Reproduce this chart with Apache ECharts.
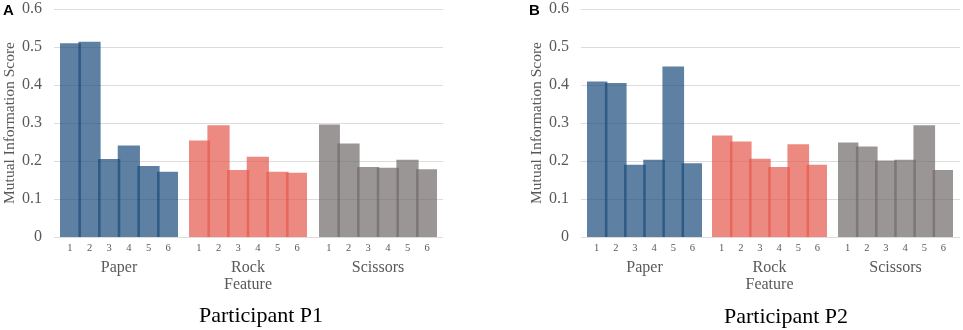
<!DOCTYPE html>
<html>
<head>
<meta charset="utf-8">
<script src="https://cdn.jsdelivr.net/npm/echarts@6/dist/echarts.min.js"></script>
<style>
  html, body { margin: 0; padding: 0; background: #fff; }
  #chart { width: 963px; height: 330px; }
</style>
</head>
<body>
<div id="chart"></div>
<script>
// feature index labels under every bar group
var features = ["1", "2", "3", "4", "5", "6"];
var groups = ["Paper", "Rock", "Scissors"];

// Participant P1
var p1Paper = [0.510, 0.514, 0.205, 0.241, 0.187, 0.172];
var p1Rock = [0.254, 0.294, 0.176, 0.211, 0.172, 0.169];
var p1Scissors = [0.296, 0.246, 0.184, 0.182, 0.203, 0.178];

// Participant P2
var p2Paper = [0.409, 0.405, 0.190, 0.203, 0.449, 0.194];
var p2Rock = [0.267, 0.251, 0.206, 0.184, 0.244, 0.190];
var p2Scissors = [0.249, 0.238, 0.201, 0.203, 0.294, 0.176];

var yMin = 0, yMax = 0.6, yStep = 0.1;

var serif = "Liberation Serif";
var gray = "#595959";
var colors = ["#1a4a7a", "#e4584c", "#706a6a"];

var chart = echarts.init(document.getElementById("chart"));

var grids = [], xAxes = [], yAxes = [], series = [];

// one panel = a background grid (y axis + gridlines) and three group grids
function addPanel(bg, groupLefts, groupWidth, data) {
    var top = 9, height = 228;
    var bgIndex = grids.length;
    grids.push({ left: bg[0], width: bg[1], top: top, height: height });
    xAxes.push({ gridIndex: bgIndex, type: "value", show: false });
    yAxes.push({
        gridIndex: bgIndex, type: "value", min: yMin, max: yMax, interval: yStep,
        name: "Mutual Information Score", nameLocation: "middle", nameGap: 36,
        nameTextStyle: { fontFamily: serif, fontSize: 15.5, color: gray },
        axisLine: { show: false }, axisTick: { show: false },
        axisLabel: { fontFamily: serif, fontSize: 16, color: gray, margin: 12 },
        splitLine: { lineStyle: { color: "#dcdcdc", width: 1 } }
    });
    groupLefts.forEach(function (left, i) {
        var gi = grids.length;
        grids.push({ left: left, width: groupWidth, top: top, height: height });
        xAxes.push({
            gridIndex: gi, type: "category", data: features,
            name: i === 1 ? groups[i] + "\nFeature" : groups[i],
            nameLocation: "middle", nameGap: 19,
            nameTextStyle: { fontFamily: serif, fontSize: 16, color: gray, lineHeight: 17.5, verticalAlign: "top" },
            axisLine: { show: false }, axisTick: { show: false },
            axisLabel: { fontFamily: serif, fontSize: 10.5, color: gray, margin: 6 }
        });
        yAxes.push({ gridIndex: gi, type: "value", min: yMin, max: yMax, interval: yStep, show: false });
        series.push({
            type: "bar", xAxisIndex: gi, yAxisIndex: gi, data: data[i],
            barWidth: "113%",
            itemStyle: { color: colors[i], opacity: 0.7 },
            silent: true
        });
    });
}

addPanel([54, 389], [60, 189, 319], 118, [p1Paper, p1Rock, p1Scissors]);
addPanel([581, 379], [587, 712, 838], 115, [p2Paper, p2Rock, p2Scissors]);

chart.setOption({
    animation: false,
    grid: grids,
    xAxis: xAxes,
    yAxis: yAxes,
    series: series,
    graphic: [
        { type: "text", left: 3, top: 3, style: { text: "A", font: "bold 15px 'Liberation Sans'", fill: "#000" } },
        { type: "text", left: 529, top: 3, style: { text: "B", font: "bold 15px 'Liberation Sans'", fill: "#000" } },
        { type: "text", x: 261, y: 316, style: { text: "Participant P1", font: "22px 'Liberation Serif'", fill: "#000", textAlign: "center", textVerticalAlign: "middle" } },
        { type: "text", x: 786, y: 317, style: { text: "Participant P2", font: "22px 'Liberation Serif'", fill: "#000", textAlign: "center", textVerticalAlign: "middle" } }
    ]
});
</script>
</body>
</html>
